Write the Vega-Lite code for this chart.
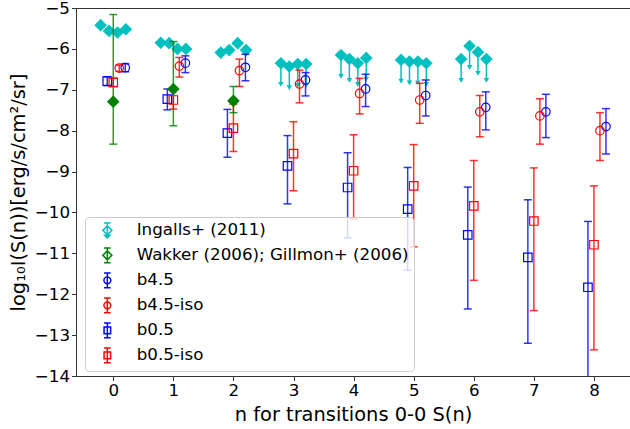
{
  "$schema": "https://vega.github.io/schema/vega-lite/v6.json",
  "width": 554,
  "height": 368,
  "autosize": {"type": "none"},
  "padding": {"left": 76, "top": 8, "right": 0, "bottom": 53},
  "datasets": {
    "pts": [
      {"s": "Ingalls+ (2011)", "x": -0.21, "y": -5.42},
      {"s": "Ingalls+ (2011)", "x": -0.07, "y": -5.56},
      {"s": "Ingalls+ (2011)", "x": 0.07, "y": -5.60},
      {"s": "Ingalls+ (2011)", "x": 0.21, "y": -5.52},
      {"s": "Ingalls+ (2011)", "x": 0.79, "y": -5.85},
      {"s": "Ingalls+ (2011)", "x": 0.93, "y": -5.86},
      {"s": "Ingalls+ (2011)", "x": 1.07, "y": -6.00},
      {"s": "Ingalls+ (2011)", "x": 1.21, "y": -6.00},
      {"s": "Ingalls+ (2011)", "x": 1.79, "y": -6.09},
      {"s": "Ingalls+ (2011)", "x": 1.93, "y": -6.03},
      {"s": "Ingalls+ (2011)", "x": 2.07, "y": -5.86},
      {"s": "Ingalls+ (2011)", "x": 2.21, "y": -6.03},
      {"s": "Ingalls+ (2011)", "x": 2.79, "y": -6.35, "lim": -6.87},
      {"s": "Ingalls+ (2011)", "x": 2.93, "y": -6.43, "lim": -6.95},
      {"s": "Ingalls+ (2011)", "x": 3.07, "y": -6.37, "lim": -6.89},
      {"s": "Ingalls+ (2011)", "x": 3.21, "y": -6.37, "lim": -6.89},
      {"s": "Ingalls+ (2011)", "x": 3.79, "y": -6.15, "lim": -6.67},
      {"s": "Ingalls+ (2011)", "x": 3.93, "y": -6.25, "lim": -6.77},
      {"s": "Ingalls+ (2011)", "x": 4.07, "y": -6.35, "lim": -6.87},
      {"s": "Ingalls+ (2011)", "x": 4.21, "y": -6.22, "lim": -6.74},
      {"s": "Ingalls+ (2011)", "x": 4.79, "y": -6.27, "lim": -6.79},
      {"s": "Ingalls+ (2011)", "x": 4.93, "y": -6.31, "lim": -6.83},
      {"s": "Ingalls+ (2011)", "x": 5.07, "y": -6.31, "lim": -6.83},
      {"s": "Ingalls+ (2011)", "x": 5.21, "y": -6.35, "lim": -6.87},
      {"s": "Ingalls+ (2011)", "x": 5.79, "y": -6.25, "lim": -6.77},
      {"s": "Ingalls+ (2011)", "x": 5.93, "y": -5.93, "lim": -6.45},
      {"s": "Ingalls+ (2011)", "x": 6.07, "y": -6.08, "lim": -6.60},
      {"s": "Ingalls+ (2011)", "x": 6.21, "y": -6.25, "lim": -6.77},
      {"s": "Wakker (2006); Gillmon+ (2006)", "x": 0, "y": -7.29, "lo": -8.33, "hi": -5.16},
      {"s": "Wakker (2006); Gillmon+ (2006)", "x": 1, "y": -6.98, "lo": -7.88, "hi": -5.82},
      {"s": "Wakker (2006); Gillmon+ (2006)", "x": 2, "y": -7.27, "lo": -7.56, "hi": -6.92},
      {"s": "b4.5", "x": 0.2, "y": -6.46, "lo": -6.56, "hi": -6.36},
      {"s": "b4.5", "x": 1.2, "y": -6.35, "lo": -6.58, "hi": -6.17},
      {"s": "b4.5", "x": 2.2, "y": -6.45, "lo": -6.78, "hi": -6.13},
      {"s": "b4.5", "x": 3.2, "y": -6.76, "lo": -7.15, "hi": -6.58},
      {"s": "b4.5", "x": 4.2, "y": -6.98, "lo": -7.41, "hi": -6.62},
      {"s": "b4.5", "x": 5.2, "y": -7.14, "lo": -7.64, "hi": -6.76},
      {"s": "b4.5", "x": 6.2, "y": -7.43, "lo": -7.98, "hi": -7.05},
      {"s": "b4.5", "x": 7.2, "y": -7.54, "lo": -8.17, "hi": -7.11},
      {"s": "b4.5", "x": 8.2, "y": -7.90, "lo": -8.57, "hi": -7.46},
      {"s": "b4.5-iso", "x": 0.1, "y": -6.47, "lo": -6.55, "hi": -6.40},
      {"s": "b4.5-iso", "x": 1.1, "y": -6.42, "lo": -6.69, "hi": -6.21},
      {"s": "b4.5-iso", "x": 2.1, "y": -6.53, "lo": -6.92, "hi": -6.25},
      {"s": "b4.5-iso", "x": 3.1, "y": -6.86, "lo": -7.32, "hi": -6.52},
      {"s": "b4.5-iso", "x": 4.1, "y": -7.09, "lo": -7.59, "hi": -6.72},
      {"s": "b4.5-iso", "x": 5.1, "y": -7.25, "lo": -7.82, "hi": -6.84},
      {"s": "b4.5-iso", "x": 6.1, "y": -7.54, "lo": -8.15, "hi": -7.14},
      {"s": "b4.5-iso", "x": 7.1, "y": -7.64, "lo": -8.33, "hi": -7.22},
      {"s": "b4.5-iso", "x": 8.1, "y": -8.00, "lo": -8.73, "hi": -7.56},
      {"s": "b0.5", "x": -0.1, "y": -6.79, "lo": -6.90, "hi": -6.68},
      {"s": "b0.5", "x": 0.9, "y": -7.23, "lo": -7.49, "hi": -6.98},
      {"s": "b0.5", "x": 1.9, "y": -8.06, "lo": -8.65, "hi": -7.48},
      {"s": "b0.5", "x": 2.9, "y": -8.86, "lo": -9.79, "hi": -8.12},
      {"s": "b0.5", "x": 3.9, "y": -9.39, "lo": -10.62, "hi": -8.54},
      {"s": "b0.5", "x": 4.9, "y": -9.92, "lo": -11.41, "hi": -8.90},
      {"s": "b0.5", "x": 5.9, "y": -10.55, "lo": -12.36, "hi": -9.38},
      {"s": "b0.5", "x": 6.9, "y": -11.10, "lo": -13.20, "hi": -9.69},
      {"s": "b0.5", "x": 7.9, "y": -11.83, "lo": -15.0, "hi": -10.22},
      {"s": "b0.5-iso", "x": 0, "y": -6.82, "lo": -6.92, "hi": -6.72},
      {"s": "b0.5-iso", "x": 1, "y": -7.25, "lo": -7.47, "hi": -7.00},
      {"s": "b0.5-iso", "x": 2, "y": -7.94, "lo": -8.51, "hi": -7.35},
      {"s": "b0.5-iso", "x": 3, "y": -8.56, "lo": -9.47, "hi": -7.78},
      {"s": "b0.5-iso", "x": 4, "y": -8.98, "lo": -10.16, "hi": -8.10},
      {"s": "b0.5-iso", "x": 5, "y": -9.35, "lo": -10.84, "hi": -8.34},
      {"s": "b0.5-iso", "x": 6, "y": -9.84, "lo": -11.66, "hi": -8.73},
      {"s": "b0.5-iso", "x": 7, "y": -10.21, "lo": -12.40, "hi": -8.91},
      {"s": "b0.5-iso", "x": 8, "y": -10.79, "lo": -13.36, "hi": -9.35}
    ]
  },
  "config": {
    "font": "DejaVu Sans",
    "view": {"stroke": "#333333", "strokeWidth": 1},
    "axis": {
      "grid": false,
      "domainColor": "#333333",
      "tickColor": "#333333",
      "labelColor": "#000000",
      "titleColor": "#000000",
      "labelFontSize": 16.7,
      "titleFontSize": 19.4,
      "titleFontWeight": "normal",
      "tickSize": 4.5,
      "labelPadding": 2,
      "domainWidth": 1,
      "tickWidth": 1
    }
  },
  "layer": [
    {
      "data": {"name": "pts"},
      "transform": [{"filter": "isValid(datum.lim)"}],
      "mark": {"type": "rule", "strokeWidth": 1.5, "opacity": 1},
      "encoding": {
        "x": {"field": "x", "type": "quantitative", "scale": {"domain": [-0.62, 8.6], "nice": false, "zero": false},
          "axis": {"values": [0, 1, 2, 3, 4, 5, 6, 7, 8], "format": "d", "title": "n for transitions 0-0 S(n)", "titlePadding": 6}},
        "y": {"field": "y", "type": "quantitative", "scale": {"domain": [-14, -5], "nice": false, "zero": false},
          "axis": {"values": [-14, -13, -12, -11, -10, -9, -8, -7, -6, -5], "format": "d", "title": "log₁₀I(S(n))[erg/s/cm²/sr]", "titlePadding": 6}},
        "y2": {"field": "lim"},
        "color": {"field": "s", "type": "nominal", "legend": null,
          "scale": {"domain": ["b0.5-iso", "b0.5", "b4.5-iso", "b4.5", "Wakker (2006); Gillmon+ (2006)", "Ingalls+ (2011)"],
            "range": ["#ff0000", "#0000ff", "#ff0000", "#0000ff", "#008000", "#00bfbf"]}}
      }
    },
    {
      "data": {"name": "pts"},
      "transform": [{"filter": "isValid(datum.lim)"}],
      "mark": {"type": "point", "shape": "triangle-down", "filled": true, "size": 30, "opacity": 1},
      "encoding": {
        "x": {"field": "x", "type": "quantitative"},
        "y": {"field": "lim", "type": "quantitative"},
        "color": {"field": "s", "type": "nominal", "legend": null}
      }
    },
    {
      "data": {"name": "pts"},
      "transform": [{"filter": "datum.s === 'Ingalls+ (2011)'"}],
      "mark": {"type": "point", "shape": "diamond", "filled": true, "size": 160, "opacity": 1},
      "encoding": {
        "x": {"field": "x", "type": "quantitative"},
        "y": {"field": "y", "type": "quantitative"},
        "color": {"field": "s", "type": "nominal", "legend": null}
      }
    },
    {
      "data": {"name": "pts"},
      "transform": [{"filter": "isValid(datum.lo)"}],
      "mark": {"type": "rule", "strokeWidth": 1.5, "opacity": 0.8, "clip": true},
      "encoding": {
        "x": {"field": "x", "type": "quantitative"},
        "y": {"field": "lo", "type": "quantitative"},
        "y2": {"field": "hi"},
        "color": {"field": "s", "type": "nominal", "legend": null}
      }
    },
    {
      "data": {"name": "pts"},
      "transform": [{"filter": "isValid(datum.lo)"}],
      "mark": {"type": "tick", "orient": "horizontal", "size": 8, "thickness": 1.5, "opacity": 0.8, "clip": true},
      "encoding": {
        "x": {"field": "x", "type": "quantitative"},
        "y": {"field": "lo", "type": "quantitative"},
        "color": {"field": "s", "type": "nominal", "legend": null}
      }
    },
    {
      "data": {"name": "pts"},
      "transform": [{"filter": "isValid(datum.hi)"}],
      "mark": {"type": "tick", "orient": "horizontal", "size": 8, "thickness": 1.5, "opacity": 0.8},
      "encoding": {
        "x": {"field": "x", "type": "quantitative"},
        "y": {"field": "hi", "type": "quantitative"},
        "color": {"field": "s", "type": "nominal", "legend": null}
      }
    },
    {
      "data": {"name": "pts"},
      "transform": [{"filter": "datum.s === 'Wakker (2006); Gillmon+ (2006)'"}],
      "mark": {"type": "point", "shape": "diamond", "filled": true, "size": 160, "opacity": 1},
      "encoding": {
        "x": {"field": "x", "type": "quantitative"},
        "y": {"field": "y", "type": "quantitative"},
        "color": {"field": "s", "type": "nominal", "legend": null}
      }
    },
    {
      "data": {"name": "pts"},
      "transform": [{"filter": "datum.s === 'b4.5' || datum.s === 'b4.5-iso'"}],
      "mark": {"type": "point", "shape": "circle", "filled": false, "size": 72, "strokeWidth": 1.2, "opacity": 1},
      "encoding": {
        "x": {"field": "x", "type": "quantitative"},
        "y": {"field": "y", "type": "quantitative"},
        "color": {"field": "s", "type": "nominal", "legend": null}
      }
    },
    {
      "data": {"name": "pts"},
      "transform": [{"filter": "datum.s === 'b0.5' || datum.s === 'b0.5-iso'"}],
      "mark": {"type": "point", "shape": "square", "filled": false, "size": 72, "strokeWidth": 1.2, "opacity": 1},
      "encoding": {
        "x": {"field": "x", "type": "quantitative"},
        "y": {"field": "y", "type": "quantitative"},
        "color": {"field": "s", "type": "nominal", "legend": null}
      }
    },
    {
      "data": {"name": "pts"},
      "mark": {"type": "point", "filled": true, "opacity": 0, "strokeWidth": 1.5},
      "encoding": {
        "x": {"field": "x", "type": "quantitative"},
        "y": {"field": "y", "type": "quantitative"},
        "shape": {"field": "s", "type": "nominal", "title": null,
          "scale": {"domain": ["Ingalls+ (2011)", "Wakker (2006); Gillmon+ (2006)", "b4.5", "b4.5-iso", "b0.5", "b0.5-iso"],
            "range": [
              "M-0.92,0L0,-0.92L0.92,0L0,0.92Z M0,-1.5L0,1.5 M-0.67,-1.5L0.67,-1.5 M-0.55,1.0L0.55,1.0L0,1.55Z",
              "M-0.92,0L0,-0.92L0.92,0L0,0.92Z M0,-1.5L0,1.5 M-0.67,-1.5L0.67,-1.5 M-0.67,1.5L0.67,1.5",
              "M0.7,0A0.7,0.7,0,1,1,-0.7,0A0.7,0.7,0,1,1,0.7,0Z M0,-1.5L0,1.5 M-0.67,-1.5L0.67,-1.5 M-0.67,1.5L0.67,1.5",
              "M0.7,0A0.7,0.7,0,1,1,-0.7,0A0.7,0.7,0,1,1,0.7,0Z M0,-1.5L0,1.5 M-0.67,-1.5L0.67,-1.5 M-0.67,1.5L0.67,1.5",
              "M-0.67,-0.67L0.67,-0.67L0.67,0.67L-0.67,0.67Z M0,-1.5L0,1.5 M-0.67,-1.5L0.67,-1.5 M-0.67,1.5L0.67,1.5",
              "M-0.67,-0.67L0.67,-0.67L0.67,0.67L-0.67,0.67Z M0,-1.5L0,1.5 M-0.67,-1.5L0.67,-1.5 M-0.67,1.5L0.67,1.5"
            ]},
          "legend": {
            "orient": "none", "legendX": 9, "legendY": 209,
            "fillColor": "rgba(255,255,255,0.8)", "strokeColor": "#cccccc", "cornerRadius": 4,
            "padding": 5, "rowPadding": 4, "symbolSize": 96, "symbolStrokeWidth": 1.5,
            "symbolOffset": 9, "labelOffset": 21, "labelFontSize": 16.7, "labelColor": "#000000", "labelLimit": 400
          }},
        "stroke": {"field": "s", "type": "nominal", "title": null,
          "scale": {"domain": ["Ingalls+ (2011)", "Wakker (2006); Gillmon+ (2006)", "b4.5", "b4.5-iso", "b0.5", "b0.5-iso"],
            "range": ["#00bfbf", "#008000", "#0000ff", "#ff0000", "#0000ff", "#ff0000"]},
          "legend": {
            "orient": "none", "legendX": 9, "legendY": 209,
            "fillColor": "rgba(255,255,255,0.8)", "strokeColor": "#cccccc", "cornerRadius": 4,
            "padding": 5, "rowPadding": 4, "symbolSize": 96, "symbolStrokeWidth": 1.5,
            "symbolOffset": 9, "labelOffset": 21, "labelFontSize": 16.7, "labelColor": "#000000", "labelLimit": 400
          }},
        "fill": {"field": "s", "type": "nominal", "title": null,
          "scale": {"domain": ["Ingalls+ (2011)", "Wakker (2006); Gillmon+ (2006)", "b4.5", "b4.5-iso", "b0.5", "b0.5-iso"],
            "range": ["#00bfbf", "#008000", "transparent", "transparent", "transparent", "transparent"]},
          "legend": {
            "orient": "none", "legendX": 9, "legendY": 209,
            "fillColor": "rgba(255,255,255,0.8)", "strokeColor": "#cccccc", "cornerRadius": 4,
            "padding": 5, "rowPadding": 4, "symbolSize": 96, "symbolStrokeWidth": 1.5,
            "symbolOffset": 9, "labelOffset": 21, "labelFontSize": 16.7, "labelColor": "#000000", "labelLimit": 400
          }}
      }
    }
  ]
}
